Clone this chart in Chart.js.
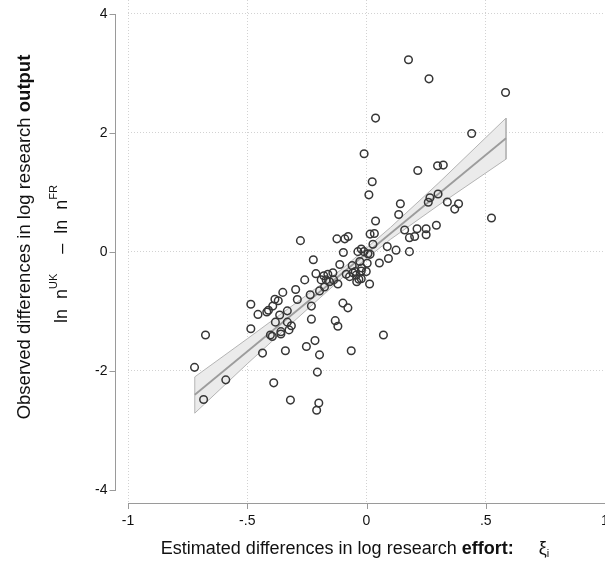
<!DOCTYPE html>
<html>
<head>
<meta charset="utf-8">
<script src="https://cdn.jsdelivr.net/npm/chart.js@4.4.0/dist/chart.umd.min.js"></script>
<style>
  html, body { margin: 0; padding: 0; background: #fff; overflow: hidden; }
</style>
</head>
<body>
<canvas id="scatterChart" width="605" height="564"></canvas>
<script>
// estimated research effort (x) vs observed research output (y), one point per field
const effortX = [
  0.176, 0.262, 0.583, 0.038, 0.441, -0.010, 0.215, 0.298, 0.322, 0.024,
  0.010, 0.300, 0.266, 0.259, 0.142, 0.135, 0.339, 0.386, 0.370, 0.524,
  0.038, 0.293, 0.160, 0.212, 0.250, 0.250, 0.202, 0.180, 0.015, 0.033,
  0.027, 0.087, 0.124, 0.180, 0.092, 0.054, -0.277, -0.124, -0.091, -0.077,
  -0.097, -0.036, -0.022, -0.011, 0.006, 0.015, -0.112, -0.028, 0.003, -0.060,
  -0.020, -0.141, -0.085, -0.071, -0.057, -0.043, -0.138, -0.120, -0.041, -0.022,
  0.013, -0.099, -0.078, -0.131, -0.120, 0.071, -0.064, -0.223, -0.212, -0.179,
  -0.162, -0.190, -0.169, -0.259, -0.297, -0.351, -0.197, -0.236, -0.290, -0.384,
  -0.370, -0.393, -0.418, -0.411, -0.485, -0.455, -0.332, -0.364, -0.231, -0.231,
  -0.382, -0.332, -0.315, -0.325, -0.359, -0.359, -0.403, -0.395, -0.485, -0.675,
  -0.216, -0.252, -0.197, -0.340, -0.436, -0.721, -0.206, -0.590, -0.389, -0.683,
  -0.319, -0.200, -0.209, -0.176, -0.047, -0.022, -0.001, -0.032, -0.155
];
const outputY = [
  3.23, 2.91, 2.68, 2.25, 1.99, 1.65, 1.37, 1.45, 1.46, 1.18,
  0.96, 0.975, 0.91, 0.835, 0.81, 0.63, 0.84, 0.81, 0.72, 0.57,
  0.52, 0.45, 0.37, 0.39, 0.39, 0.29, 0.26, 0.24, 0.30, 0.31,
  0.13, 0.09, 0.03, 0.005, -0.11, -0.185, 0.19, 0.22, 0.22, 0.26,
  -0.01, 0.005, 0.05, 0.005, -0.03, -0.04, -0.21, -0.16, -0.19, -0.23,
  -0.27, -0.35, -0.375, -0.415, -0.35, -0.39, -0.47, -0.54, -0.50, -0.45,
  -0.54, -0.86, -0.94, -1.155, -1.25, -1.395, -1.66, -0.13, -0.365, -0.40,
  -0.375, -0.47, -0.47, -0.47, -0.63, -0.68, -0.655, -0.72, -0.80, -0.795,
  -0.82, -0.91, -1.01, -0.98, -0.88, -1.05, -0.99, -1.06, -0.91, -1.13,
  -1.18, -1.18, -1.24, -1.31, -1.34, -1.38, -1.395, -1.42, -1.29, -1.395,
  -1.49, -1.59, -1.73, -1.66, -1.70, -1.94, -2.02, -2.15, -2.20, -2.48,
  -2.49, -2.54, -2.66, -0.59, -0.33, -0.32, -0.33, -0.46, -0.50
];

// fitted line and its confidence band
const fitX = [-0.72, 0.585];
const fitY = [-2.40, 1.91];
const bandX = [-0.72, -0.5, -0.3, -0.1, 0.1, 0.3, 0.585];
const bandUpper = [-2.10, -1.46, -0.87, -0.28, 0.41, 1.15, 2.25];
const bandLower = [-2.71, -1.88, -1.15, -0.43, 0.21, 0.78, 1.56];

const xTicks = [-1, -0.5, 0, 0.5, 1];
const xTickLabels = ["-1", "-.5", "0", ".5", "1"];
const yTicks = [-4, -2, 0, 2, 4];
const yTickLabels = ["-4", "-2", "0", "2", "4"];

const FONT = "'Liberation Sans', Arial, Helvetica, sans-serif";
const AXIS_COLOR = "#9a9a9a";
const GRID_COLOR = "#d2d2d2";

const points = effortX.map((x, i) => ({ x, y: outputY[i] }));
const fitLine = fitX.map((x, i) => ({ x, y: fitY[i] }));
// closed outline: along the upper bound, back along the lower bound
const bandShape = bandX.map((x, i) => ({ x, y: bandUpper[i] }))
  .concat(bandX.map((x, i) => ({ x, y: bandLower[i] })).reverse());
bandShape.push(bandShape[0]);

function drawRuns(ctx, runs, cx, cy) {
  let total = 0;
  runs.forEach(r => {
    ctx.font = r.font;
    r.w = ctx.measureText(r.text).width;
    total += r.w;
  });
  let pos = cx - total / 2;
  runs.forEach(r => {
    ctx.font = r.font;
    ctx.fillText(r.text, pos, cy + (r.dy || 0));
    pos += r.w;
  });
}

const stataAxes = {
  id: 'stataAxes',
  afterDraw(chart) {
    const { ctx, chartArea, scales: { x, y } } = chart;
    ctx.save();

    // offset y axis, x axis ticks
    const yAxisX = Math.round(chartArea.left - 13) + 0.5;
    ctx.strokeStyle = AXIS_COLOR;
    ctx.lineWidth = 1;
    ctx.beginPath();
    ctx.moveTo(yAxisX, Math.round(y.getPixelForValue(yTicks[yTicks.length - 1])));
    ctx.lineTo(yAxisX, Math.round(y.getPixelForValue(yTicks[0])) + 1);
    yTicks.forEach(v => {
      const py = Math.round(y.getPixelForValue(v)) + 0.5;
      ctx.moveTo(yAxisX - 6, py);
      ctx.lineTo(yAxisX, py);
    });
    xTicks.forEach(v => {
      const px = Math.round(x.getPixelForValue(v)) + 0.5;
      ctx.moveTo(px, chartArea.bottom);
      ctx.lineTo(px, chartArea.bottom + 6);
    });
    ctx.stroke();

    ctx.fillStyle = "#111";
    ctx.font = "14px " + FONT;
    ctx.textBaseline = "middle";
    ctx.textAlign = "right";
    yTicks.forEach((v, i) => ctx.fillText(yTickLabels[i], yAxisX - 8, y.getPixelForValue(v)));
    ctx.textAlign = "center";
    xTicks.forEach((v, i) => ctx.fillText(xTickLabels[i], x.getPixelForValue(v), chartArea.bottom + 18));

    // titles
    ctx.textAlign = "left";
    const reg = "18px " + FONT;
    const bold = "bold 18px " + FONT;
    const small = "11px " + FONT;
    drawRuns(ctx, [
      { text: "Estimated differences in log research ", font: reg },
      { text: "effort:", font: bold },
      { text: "     \u03BE", font: reg },
      { text: "i", font: small, dy: 5 }
    ], 355, 549);

    ctx.save();
    ctx.translate(25, 237);
    ctx.rotate(-Math.PI / 2);
    drawRuns(ctx, [
      { text: "Observed differences in log research ", font: "18.5px " + FONT },
      { text: "output", font: "bold 18.5px " + FONT }
    ], 0, 0);
    ctx.restore();

    ctx.save();
    ctx.translate(62, 254);
    ctx.rotate(-Math.PI / 2);
    drawRuns(ctx, [
      { text: "ln  n", font: reg },
      { text: "UK", font: small, dy: -8 },
      { text: "    \u2013  ln  n", font: reg },
      { text: "FR", font: small, dy: -8 }
    ], 0, 0);
    ctx.restore();

    ctx.restore();
  }
};

const ctx = document.getElementById("scatterChart").getContext("2d");
const chart = new Chart(ctx, {
  type: "scatter",
  data: {
    datasets: [
      {
        label: "fields",
        data: points,
        pointRadius: 3.8,
        pointBorderWidth: 1.5,
        pointBorderColor: "#363636",
        pointBackgroundColor: "rgba(0,0,0,0)",
        showLine: false
      },
      {
        label: "fit",
        data: fitLine,
        showLine: true,
        borderColor: "#9c9c9c",
        borderWidth: 1.8,
        pointRadius: 0,
        fill: false
      },
      {
        label: "95% CI",
        data: bandShape,
        showLine: true,
        borderColor: "#b4b4b4",
        borderWidth: 1,
        backgroundColor: "#ebebeb",
        pointRadius: 0,
        fill: "shape"
      }
    ]
  },
  options: {
    responsive: false,
    animation: false,
    layout: { padding: 0, autoPadding: false },
    plugins: {
      legend: { display: false },
      tooltip: { enabled: false }
    },
    scales: {
      x: {
        type: "linear",
        min: -1,
        max: 1,
        afterBuildTicks: s => { s.ticks = xTicks.map(v => ({ value: v })); },
        afterFit: s => { s.height = 61; },
        ticks: { display: false },
        grid: { color: GRID_COLOR, drawTicks: false, lineWidth: 1 },
        border: { display: true, color: AXIS_COLOR, width: 1, dash: [1, 2] }
      },
      y: {
        type: "linear",
        min: -4.22,
        max: 4.235,
        afterBuildTicks: s => { s.ticks = yTicks.map(v => ({ value: v })); },
        afterFit: s => { s.width = 128; },
        ticks: { display: false },
        grid: {
          drawTicks: false,
          lineWidth: 1,
          color: c => (c.tick && c.tick.value === -4) ? "rgba(0,0,0,0)" : GRID_COLOR
        },
        border: { display: false, dash: [1, 2] }
      }
    }
  },
  plugins: [stataAxes]
});
</script>
</body>
</html>
